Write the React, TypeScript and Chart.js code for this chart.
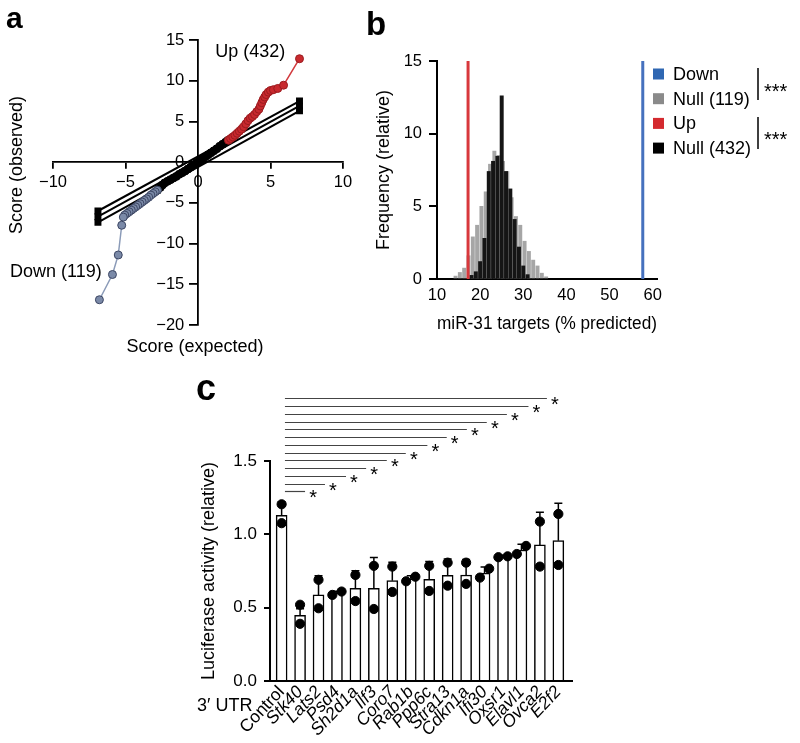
import React, { useEffect, useRef } from "react";
import { Chart, registerables } from "chart.js";

Chart.register(...registerables);

const FONT = "'Liberation Sans', Arial, Helvetica, sans-serif";

// ---------------- Panel a data (QQ plot) ----------------
const upLabel = "Up (432)";
const downLabel = "Down (119)";
const upExpected = [2.1, 2.25, 2.4, 2.55, 2.7, 2.85, 3.0, 3.15, 3.3, 3.45, 3.6, 3.75, 3.9, 4.05, 4.2, 4.3, 4.4, 4.5, 4.6, 4.7, 4.85, 5.0, 5.2, 5.5, 5.9, 7.0];
const upObserved = [2.7, 2.9, 3.1, 3.3, 3.55, 3.8, 4.05, 4.35, 4.7, 5.1, 5.4, 5.6, 5.85, 6.2, 6.5, 6.9, 7.3, 7.7, 8.0, 8.3, 8.6, 8.8, 8.9, 9.05, 9.45, 12.7];
const downExpected = [-2.8, -2.95, -3.1, -3.25, -3.4, -3.55, -3.7, -3.85, -4.0, -4.15, -4.3, -4.45, -4.6, -4.75, -4.9, -5.05, -5.15, -5.26, -5.5, -5.9, -6.8];
const downObserved = [-3.45, -3.65, -3.85, -4.05, -4.3, -4.5, -4.7, -4.9, -5.1, -5.3, -5.5, -5.7, -5.9, -6.1, -6.3, -6.5, -6.75, -7.75, -11.4, -13.8, -16.9];
const nullExpected = [-2.8, -2.6, -2.45, -2.3, -2.1, -1.9, -1.7, -1.5, -1.3, -1.1, -0.9, -0.7, -0.5, -0.3, -0.1, 0.1, 0.3, 0.5, 0.7, 0.9, 1.1, 1.3, 1.5, 1.7, 1.9, 2.05];
const nullObserved = [-3.45, -3.1, -2.8, -2.55, -2.35, -2.15, -1.95, -1.75, -1.5, -1.3, -1.1, -0.85, -0.6, -0.35, -0.1, 0.15, 0.4, 0.65, 0.9, 1.15, 1.4, 1.65, 1.95, 2.2, 2.45, 2.65];
const envelopeX = [-6.9, 7.0];
const envelopeHigh = [-6.0, 7.5];
const envelopeMid = [-6.7, 6.9];
const envelopeLow = [-7.4, 6.3];

// ---------------- Panel b data (histograms) ----------------
const nullDownBins = [14.3, 15.3, 16.3, 17.3, 18.3, 19.3, 20.3, 21.3, 22.3, 23.3, 24.3, 25.3, 26.3, 27.3, 28.3, 29.3, 30.3, 31.3, 32.3, 33.3, 34.3, 35.3];
const nullDownFreq = [0.2, 0.45, 0.75, 1.6, 2.9, 3.7, 5.0, 6.0, 7.9, 8.8, 8.5, 8.1, 7.4, 5.6, 4.3, 3.7, 2.6, 1.9, 1.3, 0.9, 0.4, 0.15];
const nullUpBins = [18, 19, 20, 21, 22, 23, 24, 25, 26, 27, 28, 29, 30, 31];
const nullUpFreq = [0.25, 0.5, 1.2, 2.8, 7.4, 8.1, 8.45, 12.6, 7.4, 6.2, 4.1, 2.2, 0.9, 0.3];
const downObservedPct = 57.7;
const upObservedPct = 17.2;
const legendLabelsB = ["Down", "Null (119)", "Up", "Null (432)"];
const signifB = "***";

// ---------------- Panel c data (luciferase) ----------------
const genes = ["Control", "Stk40", "Lats2", "Psd4", "Sh2d1a", "Ilf3", "Coro7", "Rab1b", "Ppp6c", "Stra13", "Cdkn1a", "Ifi30", "Oxsr1", "Elavl1", "Ovca2", "E2f2"];
const means = [1.13, 0.448, 0.587, 0.6, 0.632, 0.632, 0.684, 0.697, 0.694, 0.721, 0.723, 0.735, 0.847, 0.893, 0.928, 0.957];
const errs = [0.09, 0.045, 0.13, 0.012, 0.12, 0.21, 0.125, 0.02, 0.12, 0.11, 0.105, 0.043, 0.01, 0.04, 0.223, 0.255];
const rep1 = [1.205, 0.52, 0.69, 0.587, 0.723, 0.785, 0.78, 0.68, 0.785, 0.807, 0.807, 0.705, 0.844, 0.866, 1.087, 1.139];
const rep2 = [1.076, 0.39, 0.496, 0.61, 0.545, 0.491, 0.607, 0.711, 0.614, 0.65, 0.662, 0.766, 0.85, 0.921, 0.78, 0.791];
const sigStart = 0.18;
const sigEnds = [1.27, 2.35, 3.49, 4.58, 5.7, 6.73, 7.9, 8.95, 10.04, 11.12, 12.21, 13.38, 14.38];
const sigLevels = [1.298, 1.346, 1.398, 1.451, 1.508, 1.553, 1.608, 1.662, 1.717, 1.765, 1.821, 1.876, 1.932];
const utrLabel = "3\u2032 UTR";

const zip = (xs: number[], ys: number[]) => xs.map((x, i) => ({ x, y: ys[i] }));
const minus = (v: number | string) => String(v).replace("-", "\u2212");

// ---------------- plugins ----------------
const panelAText = {
  id: "panelAText",
  afterDraw(chart: any) {
    const { ctx, scales } = chart;
    const x = scales.x, y = scales.y;
    ctx.save();
    ctx.fillStyle = "#000";
    ctx.font = `18px ${FONT}`;
    ctx.textAlign = "center";
    ctx.textBaseline = "middle";
    ctx.fillText(upLabel, x.getPixelForValue(3.6), y.getPixelForValue(13.5));
    ctx.fillText(downLabel, x.getPixelForValue(-9.8), y.getPixelForValue(-13.5));
    ctx.fillText("Score (expected)", 195, 347);
    ctx.translate(17, 165);
    ctx.rotate(-Math.PI / 2);
    ctx.fillText("Score (observed)", 0, 0);
    ctx.restore();
    ctx.save();
    ctx.font = `bold 30px ${FONT}`;
    ctx.fillStyle = "#000";
    ctx.textBaseline = "alphabetic";
    ctx.fillText("a", 6, 28);
    ctx.restore();
  },
};

const panelBLegend = {
  id: "panelBLegend",
  afterDraw(chart: any) {
    const { ctx } = chart;
    const order = [3, 1, 2, 0];
    ctx.save();
    ctx.font = `18px ${FONT}`;
    ctx.textBaseline = "middle";
    ctx.textAlign = "left";
    order.forEach((di, k) => {
      const ds = chart.data.datasets[di];
      const cy = 74 + k * 24.7;
      ctx.fillStyle = ds.legendColor;
      ctx.fillRect(293, cy - 5.5, 11, 11);
      ctx.fillStyle = "#000";
      ctx.fillText(ds.label, 313, cy + 1);
    });
    ctx.strokeStyle = "#000";
    ctx.lineWidth = 1.5;
    ctx.beginPath();
    ctx.moveTo(398, 68); ctx.lineTo(398, 100);
    ctx.moveTo(398, 117); ctx.lineTo(398, 149);
    ctx.stroke();
    ctx.fillStyle = "#000";
    ctx.font = `20px ${FONT}`;
    ctx.textBaseline = "alphabetic";
    ctx.fillText(signifB, 404, 98);
    ctx.fillText(signifB, 404, 146);
    ctx.font = `bold 33px ${FONT}`;
    ctx.fillText("b", 6, 35);
    ctx.restore();
  },
};

const panelCExtras = {
  id: "panelCExtras",
  beforeDatasetsDraw(chart: any) {
    const { ctx, scales } = chart;
    const x = scales.x, y = scales.y;
    ctx.save();
    ctx.strokeStyle = "#000";
    ctx.lineWidth = 1.5;
    means.forEach((m, i) => {
      const px = x.getPixelForValue(i);
      const y0 = y.getPixelForValue(m);
      const y1 = y.getPixelForValue(m + errs[i]);
      ctx.beginPath();
      ctx.moveTo(px, y0);
      ctx.lineTo(px, y1);
      ctx.moveTo(px - 4, y1);
      ctx.lineTo(px + 4, y1);
      ctx.stroke();
    });
    ctx.restore();
  },
  afterDraw(chart: any) {
    const { ctx, scales } = chart;
    const x = scales.x, y = scales.y;
    ctx.save();
    ctx.strokeStyle = "#444";
    ctx.lineWidth = 1.2;
    ctx.fillStyle = "#000";
    ctx.font = `20px ${FONT}`;
    ctx.textAlign = "center";
    ctx.textBaseline = "alphabetic";
    sigLevels.forEach((lv, k) => {
      const py = Math.round(y.getPixelForValue(lv)) + 0.5;
      const x0 = x.getPixelForValue(sigStart);
      const x1 = x.getPixelForValue(sigEnds[k]);
      ctx.beginPath();
      ctx.moveTo(x0, py);
      ctx.lineTo(x1, py);
      ctx.stroke();
      ctx.fillText("*", x1 + 8, py + 12);
    });
    ctx.textAlign = "left";
    ctx.textBaseline = "middle";
    ctx.font = `18px ${FONT}`;
    ctx.fillText(utrLabel, 197, 336);
    ctx.font = `bold 36px ${FONT}`;
    ctx.textBaseline = "alphabetic";
    ctx.fillText("c", 196, 30);
    ctx.restore();
  },
};

// ---------------- configs ----------------
function configA(): any {
  const envelopes = [envelopeHigh, envelopeMid, envelopeLow];
  return {
    type: "scatter",
    data: {
      datasets: [
        {
          label: "Up", data: zip(upExpected, upObserved), showLine: true,
          borderColor: "#d23a3e", borderWidth: 1.5, pointRadius: 4,
          pointBackgroundColor: "#c8292e", pointBorderColor: "#9b1b1f", pointBorderWidth: 1, order: 1,
        },
        {
          label: "Down", data: zip(downExpected, downObserved), showLine: true,
          borderColor: "#8b9bb8", borderWidth: 1.5, pointRadius: 4,
          pointBackgroundColor: "#7b8aa8", pointBorderColor: "#3c4663", pointBorderWidth: 1, order: 2,
        },
        {
          label: "Null", data: zip(nullExpected, nullObserved), showLine: false,
          pointRadius: 4, pointBackgroundColor: "#000", pointBorderColor: "#000", order: 3,
        },
        ...envelopes.map((ys, k) => ({
          label: "Envelope " + k, data: zip(envelopeX, ys), showLine: true,
          borderColor: "#000", borderWidth: 2, pointStyle: "rect", pointRadius: 3.5,
          pointBackgroundColor: "#000", pointBorderColor: "#000", order: 4,
        })),
      ],
    },
    options: {
      responsive: false, animation: false, events: [],
      layout: { padding: { left: 53, right: 17, top: 40, bottom: 45 } },
      plugins: { legend: { display: false }, tooltip: { enabled: false } },
      scales: {
        x: {
          type: "linear", position: { y: 0 }, min: -10, max: 10,
          ticks: { stepSize: 5, color: "#000", font: { family: FONT, size: 16.5 }, padding: 4, callback: (v: number) => minus(v) },
          grid: { drawOnChartArea: false, drawTicks: true, tickLength: 6, color: "#000", lineWidth: 1.8 },
          border: { color: "#000", width: 1.8 },
        },
        y: {
          type: "linear", position: { x: 0 }, min: -20, max: 15,
          // centre-positioned axes ignore tick padding, so pad the label text itself
          ticks: { stepSize: 5, color: "#000", font: { family: FONT, size: 16.5 }, callback: (v: number) => minus(v) + "   " },
          grid: { drawOnChartArea: false, drawTicks: true, tickLength: 8, color: "#000", lineWidth: 1.8 },
          border: { color: "#000", width: 1.8 },
        },
      },
    },
    plugins: [panelAText],
  };
}

function configB(): any {
  return {
    type: "bar",
    data: {
      datasets: [
        {
          type: "bar", label: legendLabelsB[3], data: zip(nullUpBins, nullUpFreq),
          backgroundColor: "#151515", legendColor: "#000", barThickness: 3.3, grouped: false, order: 2,
        },
        {
          type: "bar", label: legendLabelsB[1], data: zip(nullDownBins, nullDownFreq),
          backgroundColor: "#a6a6a6", legendColor: "#8a8a8a", barThickness: 3.3, grouped: false, order: 3,
        },
        {
          type: "line", label: legendLabelsB[2], data: [{ x: upObservedPct, y: 0 }, { x: upObservedPct, y: 15 }],
          borderColor: "#d8383c", legendColor: "#d42a2f", borderWidth: 3, pointRadius: 0, order: 1,
        },
        {
          type: "line", label: legendLabelsB[0], data: [{ x: downObservedPct, y: 0 }, { x: downObservedPct, y: 15 }],
          borderColor: "#4671be", legendColor: "#2f67b2", borderWidth: 3, pointRadius: 0, order: 1,
        },
      ],
    },
    options: {
      responsive: false, animation: false, events: [],
      layout: { padding: { left: 13, right: 143, top: 61, bottom: 35 } },
      plugins: { legend: { display: false }, tooltip: { enabled: false } },
      scales: {
        x: {
          type: "linear", position: "bottom", min: 10, max: 61, offset: false,
          ticks: { stepSize: 10, includeBounds: false, color: "#000", font: { family: FONT, size: 16.5 }, padding: 7, maxRotation: 0 },
          grid: { offset: false, drawOnChartArea: false, drawTicks: false, color: "#000" },
          border: { color: "#000", width: 2 },
          title: { display: true, text: "miR-31 targets (% predicted)", color: "#000", font: { family: FONT, size: 18 }, padding: 0 },
          afterFit: (s: any) => { s.height = 56; },
        },
        y: {
          type: "linear", position: "left", min: 0, max: 15,
          ticks: { stepSize: 5, color: "#000", font: { family: FONT, size: 16.5 }, padding: 7 },
          grid: { drawOnChartArea: false, drawTicks: true, tickLength: 8, color: "#000", lineWidth: 2 },
          border: { color: "#000", width: 2 },
          title: { display: true, text: "Frequency (relative)", color: "#000", font: { family: FONT, size: 18 }, padding: 0 },
          afterFit: (s: any) => { s.width = 64; },
        },
      },
    },
    plugins: [panelBLegend],
  };
}

function configC(): any {
  const dots: { x: number; y: number }[] = [];
  genes.forEach((_, i) => {
    const a = rep1[i], b = rep2[i];
    const close = Math.abs(a - b) < 0.08;
    const lo = Math.min(a, b), hi = Math.max(a, b);
    dots.push({ x: close ? i - 0.25 : i, y: lo });
    dots.push({ x: close ? i + 0.25 : i, y: hi });
  });
  return {
    type: "bar",
    data: {
      datasets: [
        {
          type: "bar", label: "Mean", data: zip(genes.map((_, i) => i), means),
          backgroundColor: "#fff", borderColor: "#000", borderWidth: 1.5, barThickness: 11, order: 2,
        },
        {
          type: "scatter", label: "Replicates", data: dots,
          pointRadius: 4.6, pointBackgroundColor: "#000", pointBorderColor: "#000", order: 1,
        },
      ],
    },
    options: {
      responsive: false, animation: false, events: [],
      layout: { padding: { left: 198, right: 228, top: 91, bottom: 0 } },
      plugins: { legend: { display: false }, tooltip: { enabled: false } },
      scales: {
        x: {
          type: "linear", position: "bottom", min: -0.63, max: 15.74, offset: false,
          ticks: {
            stepSize: 1, includeBounds: false, autoSkip: false, minRotation: 47, maxRotation: 47, padding: 1, color: "#000",
            font: (c: any) => ({ family: FONT, size: 17.5, style: c.tick && c.tick.value === 0 ? "normal" : "italic" }),
            callback: (v: number) => (Number.isInteger(v) && genes[v] ? genes[v] : ""),
          },
          grid: { offset: false, drawOnChartArea: false, drawTicks: false, color: "#000" },
          border: { color: "#000", width: 2 },
          afterFit: (s: any) => { s.height = 62; },
        },
        y: {
          type: "linear", position: "left", min: 0, max: 1.5,
          ticks: { stepSize: 0.5, color: "#000", font: { family: FONT, size: 17 }, padding: 7, callback: (v: number) => Number(v).toFixed(1) },
          grid: { drawOnChartArea: false, drawTicks: true, tickLength: 6, color: "#000", lineWidth: 2 },
          border: { color: "#000", width: 2 },
          title: { display: true, text: "Luciferase activity (relative)", color: "#000", font: { family: FONT, size: 18 }, padding: 0 },
          afterFit: (s: any) => { s.width = 72; },
        },
      },
    },
    plugins: [panelCExtras],
  };
}

export default function App() {
  const aRef = useRef<HTMLCanvasElement>(null);
  const bRef = useRef<HTMLCanvasElement>(null);
  const cRef = useRef<HTMLCanvasElement>(null);

  useEffect(() => {
    Chart.defaults.font.family = FONT;
    const charts = [
      new Chart(aRef.current as HTMLCanvasElement, configA()),
      new Chart(bRef.current as HTMLCanvasElement, configB()),
      new Chart(cRef.current as HTMLCanvasElement, configC()),
    ];
    return () => charts.forEach((c) => c.destroy());
  }, []);

  return (
    <div style={{ position: "absolute", left: 0, top: 0, width: 800, height: 743, background: "#fff", overflow: "hidden" }}>
      <canvas ref={aRef} width={360} height={370} style={{ position: "absolute", left: 0, top: 0 }} />
      <canvas ref={bRef} width={440} height={370} style={{ position: "absolute", left: 360, top: 0 }} />
      <canvas ref={cRef} width={800} height={373} style={{ position: "absolute", left: 0, top: 370 }} />
    </div>
  );
}
